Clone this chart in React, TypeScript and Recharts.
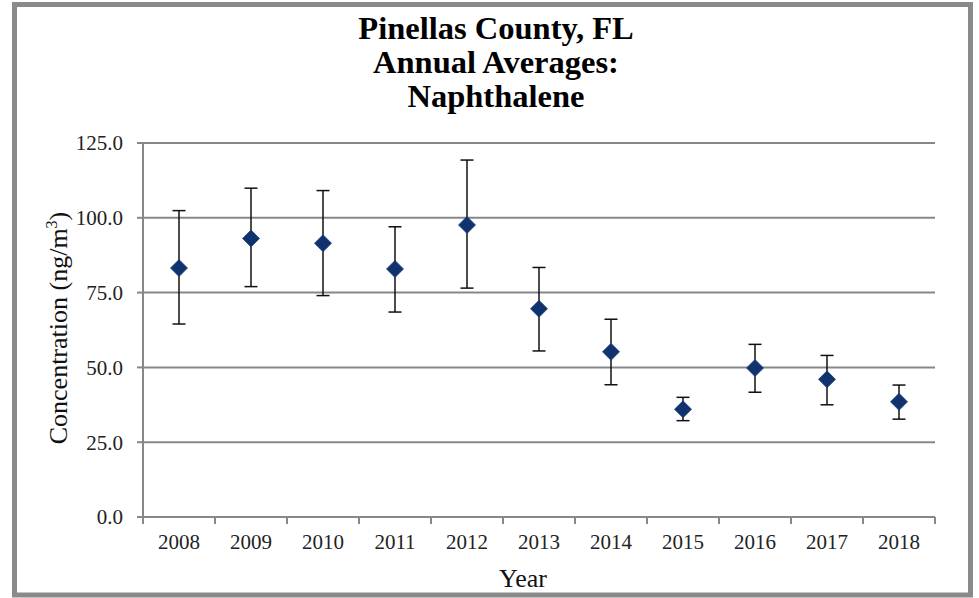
import React from 'react';
import { ComposedChart, Scatter, XAxis, YAxis, CartesianGrid, ErrorBar } from 'recharts';

const years = ['2008', '2009', '2010', '2011', '2012', '2013', '2014', '2015', '2016', '2017', '2018'];
const means = [83.2, 93.1, 91.5, 82.9, 97.6, 69.6, 55.2, 36.0, 49.8, 46.0, 38.5];
const upper = [102.4, 109.9, 109.1, 97.0, 119.3, 83.4, 66.1, 40.0, 57.7, 54.0, 44.1];
const lower = [64.5, 77.0, 74.0, 68.5, 76.5, 55.5, 44.2, 32.2, 41.7, 37.5, 32.7];
const yTicks = [0, 25, 50, 75, 100, 125];
const titleLines = ['Pinellas County, FL', 'Annual Averages:', 'Naphthalene'];

const data = years.map((year, i) => ({
  x: i,
  year,
  mean: means[i],
  err: [+(means[i] - lower[i]).toFixed(2), +(upper[i] - means[i]).toFixed(2)],
}));

const xBoundaries = years.map((_, i) => i - 0.5).concat([years.length - 0.5]);

const W = 979;
const H = 598;
const LEFT = 143;
const RIGHT_M = 44;
const TOP = 143;
const XAXIS_H = 81;
const PLOT_W = W - LEFT - RIGHT_M;
const HALF_BAND = PLOT_W / years.length / 2;

const GRID = '#878787';
const SERIF = '"Liberation Serif", "Times New Roman", serif';

const Diamond = (props: any) => {
  const { cx, cy } = props;
  if (cx == null || cy == null) return null;
  const r = 8.5;
  return (
    <polygon
      points={`${cx},${cy - r} ${cx + r},${cy} ${cx},${cy + r} ${cx - r},${cy}`}
      fill="#10326E"
      stroke="#1E4380"
      strokeWidth={0.8}
    />
  );
};

const XTick = (props: any) => {
  const { x, y, payload } = props;
  const idx = Math.round(payload.value + 0.5);
  if (idx < 0 || idx >= years.length) return <g />;
  return (
    <text
      x={x + HALF_BAND}
      y={y}
      dy="0.75em"
      textAnchor="middle"
      fontFamily={SERIF}
      fontSize={21}
      fill="#222"
    >
      {years[idx]}
    </text>
  );
};

export default function App() {
  return (
    <div style={{ position: 'absolute', left: 0, top: 0, width: W, height: H, background: '#fff' }}>
      <ComposedChart
        width={W}
        height={H}
        data={data}
        margin={{ top: TOP, right: RIGHT_M, bottom: 0, left: 0 }}
      >
        <CartesianGrid vertical={false} stroke={GRID} strokeWidth={2} />
        <XAxis
          dataKey="x"
          type="number"
          domain={[-0.5, years.length - 0.5]}
          ticks={xBoundaries}
          height={XAXIS_H}
          axisLine={{ stroke: GRID, strokeWidth: 2 }}
          tickLine={{ stroke: GRID, strokeWidth: 2 }}
          tickSize={7}
          tickMargin={9}
          tick={<XTick />}
          interval={0}
        />
        <YAxis
          type="number"
          domain={[0, 125]}
          ticks={yTicks}
          width={LEFT}
          axisLine={{ stroke: GRID, strokeWidth: 2 }}
          tickLine={{ stroke: GRID, strokeWidth: 2 }}
          tickSize={6}
          tickMargin={14}
          interval={0}
          tickFormatter={(v: number) => v.toFixed(1)}
          tick={{ fontFamily: SERIF, fontSize: 21, fill: '#222' }}
        />
        <Scatter dataKey="mean" shape={<Diamond />} isAnimationActive={false}>
          <ErrorBar dataKey="err" direction="y" width={6.5} stroke="#111" strokeWidth={1.5} />
        </Scatter>
      </ComposedChart>
      <svg
        width={W}
        height={H}
        style={{ position: 'absolute', left: 0, top: 0, pointerEvents: 'none' }}
      >
        <rect x={14.5} y={4.5} width={956} height={590.5} fill="none" stroke="#8a8a8a" strokeWidth={5} />
        {titleLines.map((t, i) => (
          <text
            key={t}
            x={496}
            y={39 + i * 34}
            textAnchor="middle"
            fontFamily={SERIF}
            fontWeight="bold"
            fontSize={32.5}
            fill="#000"
          >
            {t}
          </text>
        ))}
        <text
          x={67}
          y={328}
          transform="rotate(-90, 67, 328)"
          textAnchor="middle"
          fontFamily={SERIF}
          fontSize={26}
          fill="#111"
        >
          Concentration (ng/m<tspan dy={-10} fontSize={16}>3</tspan>
          <tspan dy={10}>)</tspan>
        </text>
        <text x={523} y={587} textAnchor="middle" fontFamily={SERIF} fontSize={26} fill="#111">
          Year
        </text>
      </svg>
    </div>
  );
}
